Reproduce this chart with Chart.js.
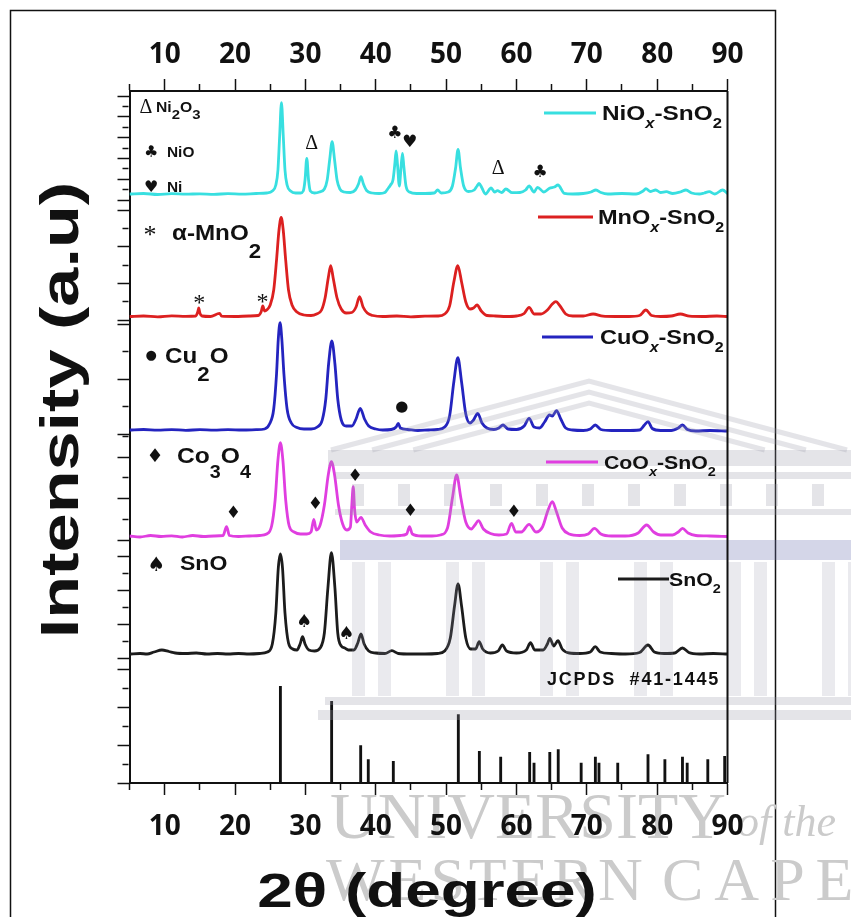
<!DOCTYPE html>
<html>
<head>
<meta charset="utf-8">
<script src="https://cdn.jsdelivr.net/npm/chart.js@4.4.1/dist/chart.umd.min.js"></script>
<style>
  html, body { margin: 0; padding: 0; background: #fff; overflow: hidden; }
  canvas { display: block; }
</style>
</head>
<body>
<canvas id="xrd" width="851" height="917"></canvas>
<script>
// ---- 2θ axis ----
const twoThetaMin = 5;
const twoThetaMax = 90;
const xTickValues = [5, 10, 15, 20, 25, 30, 35, 40, 45, 50, 55, 60, 65, 70, 75, 80, 85, 90];
const xTickLabels = [10, 20, 30, 40, 50, 60, 70, 80, 90];

// ---- diffraction patterns: [2θ (deg), intensity (a.u.)] ----
const nioSno2 = [[5,6],[7,6.5],[9,5.5],[11,6.3],[13,5.8],[15,6.2],[17,5.7],[19,6.3],[21,5.8],[23,6.5],[24.5,7],[25.3,9],[25.8,15],[26.1,30],[26.35,65],[26.6,97.3],[26.85,65],[27.1,30],[27.4,15],[27.9,9],[28.6,7],[29.3,7],[29.7,9],[29.95,20],[30.2,41.7],[30.45,20],[30.7,9],[31.3,7],[32,8],[32.7,11],[33.1,20],[33.45,40],[33.8,58.3],[34.15,40],[34.5,20],[34.9,11],[35.5,8],[36.4,7.5],[37.1,10],[37.55,16],[37.9,23.3],[38.25,16],[38.7,9.5],[39.5,7],[40.5,6.5],[41.3,7.5],[41.8,12],[42.1,15],[42.45,20],[42.7,35],[42.9,49],[43.1,35],[43.35,14],[43.6,33],[43.8,46.7],[44.0,33],[44.3,14],[44.8,8],[45.8,6.5],[47,6.5],[48.3,7],[48.8,10],[49.3,7],[50.3,8],[50.9,14],[51.35,32],[51.7,50.7],[52.05,32],[52.5,14],[53.2,8.5],[54.0,10],[54.4,14],[54.7,16.7],[55.1,12],[55.6,6],[56.4,12],[56.9,8],[57.3,9.3],[57.9,7.5],[58.5,11],[59.4,7.3],[60.5,7.5],[61.3,10],[61.8,14],[62.5,8],[63.0,12.7],[63.9,8],[64.7,11.7],[65.4,13],[65.9,15],[66.8,6.7],[68,6],[69.5,6.5],[70.6,8],[71.3,10],[72,7.5],[73,6],[75,6.5],[77,6],[78,9],[78.4,11.3],[79,8.5],[79.8,10],[80.5,7.5],[81.3,8.3],[82.2,6.5],[83.3,8],[84.1,10],[84.9,7],[86,6],[86.7,7],[87.4,8.3],[88.2,6],[89.3,10],[90,6.5]];

const mnoSno2 = [[5,3.5],[7,4],[9,3.2],[11,4.2],[13,3.6],[14.4,4],[14.7,8],[14.84,12],[15.0,7],[15.3,4],[16.5,3.5],[17.8,6.7],[18.1,3.8],[20,3.5],[22,4],[23.3,4.5],[23.7,8],[23.95,14],[24.2,9],[24.5,10],[25.0,15],[25.5,30],[25.9,60],[26.25,90],[26.56,102.7],[26.85,90],[27.2,60],[27.6,30],[28.1,15],[28.8,8],[29.8,5],[30.8,4.5],[31.6,6],[32.3,10],[32.8,22],[33.25,42],[33.6,54.3],[33.95,42],[34.5,22],[35.1,11],[35.8,7],[36.6,7.5],[37.2,13],[37.7,23.3],[38.2,13],[38.8,7],[39.6,4.5],[41,3.5],[43,4],[45,3.2],[47,3.8],[48.8,4],[49.8,6],[50.5,14],[51.1,38],[51.67,54.3],[52.2,38],[52.8,18],[53.4,11],[53.9,12],[54.4,15],[55,9],[55.8,4.5],[57,4],[58.5,3.5],[60,4],[61.1,6.5],[61.8,12.7],[62.5,6],[63.5,6],[64.4,10],[65.1,16],[65.6,18.3],[66.2,14],[67.0,6],[68,4],[69.5,4],[70.9,6],[72.3,3.8],[74,3.5],[76,3.5],[77.5,4.5],[78.4,10],[79.2,4.5],[80.5,3.5],[82,4],[83.3,6],[84.6,3.8],[86.5,3.5],[88.5,4],[90,3.5]];

const cuoSno2 = [[5,4],[7,4.5],[9,3.8],[11,4.4],[13,3.7],[15,4.3],[17,3.8],[19,4.4],[21,4],[23,4.3],[24.2,5],[24.9,10],[25.5,25],[25.9,60],[26.15,95],[26.4,111.3],[26.65,95],[26.95,60],[27.4,25],[28,11],[28.8,6.5],[29.8,5],[30.8,5],[31.7,7],[32.4,14],[32.9,35],[33.3,70],[33.76,93],[34.2,70],[34.6,35],[35.1,14],[35.8,8],[36.6,8],[37.2,15],[37.8,25.7],[38.4,15],[39,8],[40,5],[41,4],[42.2,4.5],[42.9,7],[43.2,10.7],[43.5,6],[44.5,4.5],[46,3.5],[47.5,4],[48.8,4.5],[49.8,7],[50.5,18],[51.1,52],[51.67,76.3],[52.2,52],[52.8,20],[53.4,11],[53.9,14],[54.5,20.7],[55.1,11],[55.8,6],[56.8,4.5],[57.5,6],[58.1,9],[58.8,5],[60,4.5],[61.1,8],[61.8,15.7],[62.5,7],[63.3,6],[64.0,12],[64.7,19],[65.1,18],[65.7,23.3],[66.3,15],[67,6],[68,4],[69.5,3.5],[70.5,5],[71.2,9],[72,4.5],[73.5,3.5],[75.5,3.5],[77.5,4],[78.2,9],[78.7,12.3],[79.3,5.5],[80.5,3.5],[82,3.5],[83,6],[83.6,9],[84.3,4.5],[85.5,3],[87.5,3.5],[90,3]];

const cooSno2 = [[5,4],[6.5,3],[8,4.5],[9.5,3.5],[11,4.2],[12.5,3],[14,4.5],[15.5,3.5],[17,4],[18.3,4.5],[18.8,13.3],[19.2,4.5],[20.5,3.5],[22,4],[23.5,4.5],[24.5,6],[25.2,14],[25.7,40],[26.1,80],[26.45,97.3],[26.8,80],[27.2,40],[27.7,14],[28.4,8],[29.3,6],[30.2,6],[30.8,8],[31.2,20.7],[31.55,10],[32.1,15],[32.7,35],[33.25,65],[33.7,78.3],[34.15,65],[34.7,35],[35.3,16],[35.9,10],[36.4,13],[36.6,35],[36.8,53.3],[37.0,30],[37.3,18],[37.9,22.7],[38.5,15],[39.3,8],[40.5,5],[42,4],[43.5,4.5],[44.4,6],[44.8,13.3],[45.2,6],[46.5,4],[48,4],[49.2,5],[50.2,12],[50.9,42],[51.5,65],[52.1,42],[52.8,18],[53.6,11],[54.1,15],[54.6,19.3],[55.3,11],[56.3,6.5],[57.5,5],[58.6,6],[59.3,16.7],[59.9,8],[60.7,8],[61.8,15.7],[62.8,8],[63.7,13],[64.5,30],[65.1,38.3],[65.7,28],[66.5,12],[67.5,6],[69,4.5],[70.2,6],[71.1,11.7],[72,6],[73.5,4],[75.5,4],[77.3,7],[78.5,15],[79.5,8],[80.5,5],[82.2,5],[83.0,8],[83.6,11.7],[84.4,7],[85.5,4.5],[87.5,4],[90,3.5]];

const sno2 = [[5,4],[6.5,4.5],[7.5,4],[8.5,6],[9.6,8],[10.6,6.5],[11.5,5],[13,4.5],[14.5,5],[16,4],[17.5,4.5],[19,4],[20.5,4.5],[22,4],[23.5,4.5],[24.6,6],[25.3,14],[25.8,45],[26.15,90],[26.45,104],[26.75,90],[27.1,45],[27.6,15],[28.2,9],[28.8,8],[29.25,14],[29.6,21.3],[29.95,14],[30.5,8],[31.3,7],[32.1,10],[32.7,25],[33.2,70],[33.7,105.3],[34.2,70],[34.6,25],[35.1,12],[35.6,10],[36.1,8],[36.9,8],[37.45,15],[37.9,24],[38.35,14],[39,7],[40,5],[41.3,4.5],[42.3,7.3],[43.2,4.5],[45,4],[47,4],[48.8,4.5],[49.8,7],[50.6,20],[51.2,52],[51.7,74],[52.2,52],[52.8,20],[53.5,9],[54.2,9],[54.7,16.3],[55.2,9],[56.3,5],[57.4,7],[58.0,13],[58.6,7],[60,5],[61.4,8],[62.0,15.3],[62.6,8],[63.8,8],[64.4,14],[64.75,19.7],[65.3,12],[65.9,17.3],[66.5,9],[67.5,5],[69,4.5],[70.5,6],[71.2,11.3],[71.9,6],[73.5,4.5],[75.5,4],[77.5,5.5],[78.7,13],[79.6,6],[81,4.5],[82.5,5],[83.6,10],[84.5,5.5],[86,4],[88,4.5],[90,4]];

// reference card JCPDS #41-1445 (cassiterite SnO2)
const jcpdsAngles = [26.45, 33.73, 37.86, 38.94, 42.5, 51.74, 54.73, 57.76, 61.88, 62.5, 64.74, 65.94, 69.2, 71.22, 71.73, 74.4, 78.7, 81.1, 83.6, 84.27, 87.2, 89.6];
const jcpdsIntensities = [96.6, 81.6, 37.3, 23.3, 21.6, 68.3, 31.6, 26, 30.6, 20, 30.6, 33.3, 20, 26, 20, 20, 28.3, 23.3, 26, 20, 23.3, 26.6];

// ---- secondary-phase reflections marked on the patterns: [2θ, intensity] ----
const ni2o3Marks = [[30.9, 58.3], [57.4, 32.7]];
const nioMarks = [[42.7, 68.3], [63.35, 30]];
const niMarks = [[44.8, 59.3]];
const mno2Marks = [[14.9, 20.7], [23.9, 21.7]];
const cu2oMarks = [[43.7, 26.7]];
const co3o4Marks = [[19.75, 28.3], [31.4, 37.3], [37.05, 66], [44.9, 30.7], [59.6, 29.3]];
const snoMarks = [[29.8, 38], [35.8, 26.3]];

// ---- stacked intensity panels (top to bottom): span and tick step in a.u. ----
const panelIds = ['yNi', 'yMn', 'yCu', 'yCo', 'ySn', 'yRef'];
const panelSpans = [109, 120, 114, 106, 118, 125];
const panelTickSteps = [10.4, 18.3, 27.5, 20.7, 17, 19];

const FONT = '"Liberation Sans", "DejaVu Sans", Arial, sans-serif';
const TICKFONT = '"Open Sans", "Liberation Sans", sans-serif';
const SYM = '"DejaVu Sans", "Liberation Sans", sans-serif';
const SERIF = '"Liberation Serif", "DejaVu Serif", serif';
const INK = '#111';

const COLORS = { ni: '#38dfe0', mn: '#dc2020', cu: '#2424bf', co: '#e03ee0', sn: '#1c1c1c' };

const toXY = arr => arr.map(([x, y]) => ({ x, y }));

// major ticks long, minor ticks drawn as a short dash at the axis end
const TL = 12;
function minorDash(isMajor) { return isMajor ? [] : [6, 30]; }
function minorOffsetOuterFirst(isMajor) { return isMajor ? 0 : 36 - (TL - 1 - 6); }

function panelAxis(i) {
  const span = panelSpans[i], step = panelTickSteps[i];
  return {
    type: 'linear', position: 'left', stack: 'xrd', stackWeight: span, weight: 10 - i,
    min: 0, max: span, offset: false,
    afterBuildTicks: s => {
      const t = [];
      for (let k = 0; k * step <= span - 0.5; k++) t.push({ value: k * step, major: k % 2 === 0 });
      s.ticks = t;
    },
    ticks: { display: false },
    grid: {
      drawOnChartArea: false, drawTicks: true, tickLength: TL, tickWidth: 1.5, tickColor: INK,
      tickBorderDash: ctx => minorDash(ctx.tick && ctx.tick.major),
      tickBorderDashOffset: ctx => minorOffsetOuterFirst(ctx.tick && ctx.tick.major)
    },
    border: { display: true, color: INK, width: 2 }
  };
}

function thetaAxis(position) {
  const top = position === 'top';
  return {
    type: 'linear', position, min: twoThetaMin, max: twoThetaMax, offset: false,
    afterBuildTicks: s => { s.ticks = xTickValues.map(v => ({ value: v, major: v % 10 === 0 })); },
    ticks: {
      autoSkip: false, maxRotation: 0, padding: top ? 7 : 15, color: INK,
      font: { family: TICKFONT, weight: 'bold', size: 28 },
      callback: v => xTickLabels.includes(v) ? String(v) : ''
    },
    grid: {
      offset: false, drawOnChartArea: false, drawTicks: true, tickLength: TL, tickWidth: 1.5, tickColor: INK,
      tickBorderDash: ctx => minorDash(ctx.tick && ctx.tick.major),
      tickBorderDashOffset: ctx => top ? minorOffsetOuterFirst(ctx.tick && ctx.tick.major) : 0
    },
    border: { display: true, color: INK, width: 2 }
  };
}

// ---- drawing helpers ----
function glyph(c, ch, cx, cy, font, color) {
  c.font = font; c.fillStyle = color || INK; c.textAlign = 'left'; c.textBaseline = 'alphabetic';
  const m = c.measureText(ch);
  const x0 = cx - (m.actualBoundingBoxRight - m.actualBoundingBoxLeft) / 2;
  const y0 = cy + (m.actualBoundingBoxAscent - m.actualBoundingBoxDescent) / 2;
  c.fillText(ch, x0, y0);
}

// parts: plain strings or [text, kind]; kind s = small subscript, S = large subscript,
// M = medium subscript, m = mid subscript, i = italic. Text is widened by `stretch`.
function rich(c, x, y, parts, size, stretch = 1, color) {
  c.save();
  c.translate(x, y); c.scale(stretch, 1);
  let cx = 0;
  c.fillStyle = color || INK; c.textAlign = 'left'; c.textBaseline = 'alphabetic';
  for (const p of parts) {
    const [t, k] = Array.isArray(p) ? p : [p, ''];
    let fs = size, dy = 0;
    if (k.includes('s')) { fs = size * 0.68; dy = size * 0.38; }
    if (k.includes('m')) { fs = size * 0.95; dy = size * 0.5; }
    if (k.includes('M')) { fs = size * 0.8; dy = size * 0.7; }
    if (k.includes('S')) { fs = size * 0.92; dy = size * 0.8; }
    c.font = `${k.includes('i') ? 'italic ' : ''}bold ${fs}px ${FONT}`;
    c.fillText(t, cx, dy);
    cx += c.measureText(t).width;
  }
  c.restore();
}

function legendEntry(c, x1, x2, y, color, tx, parts, size, stretch) {
  c.save();
  c.strokeStyle = color; c.lineWidth = 3; c.lineCap = 'butt';
  c.beginPath(); c.moveTo(x1, y); c.lineTo(x2, y); c.stroke();
  c.restore();
  rich(c, tx, y + size * 0.35, parts, size, stretch);
}

function markAll(chart, axisId, marks, ch, font) {
  const xs = chart.scales.x, ys = chart.scales[axisId];
  for (const [t, v] of marks) glyph(chart.ctx, ch, xs.getPixelForValue(t), ys.getPixelForValue(v), font);
}

function drawCrest(c) {
  // faint university building behind the lower panels
  c.save();
  const g = 'rgba(150,152,168,0.26)';
  c.strokeStyle = g; c.lineWidth = 5;
  const apexX = 589, apexY = 381, baseY = 450, half = 258, slope = (baseY - apexY) / half;
  for (const d of [0, 11, 22]) {
    const dx = d / slope;
    c.beginPath();
    c.moveTo(apexX - half + dx, baseY);
    c.lineTo(apexX, apexY + d);
    c.lineTo(apexX + half - dx, baseY);
    c.stroke();
  }
  c.fillStyle = g;
  c.fillRect(328, 450, 523, 16);
  c.fillRect(335, 472, 516, 7);
  for (let x = 352; x < 851; x += 46) c.fillRect(x, 484, 12, 22);
  c.fillRect(335, 509, 516, 6);
  c.fillStyle = 'rgba(112,120,178,0.30)';
  c.fillRect(340, 540, 511, 20);
  c.fillStyle = 'rgba(150,152,168,0.20)';
  for (const x of [352, 378, 446, 472, 540, 566, 634, 660, 728, 754, 822, 848]) c.fillRect(x, 562, 13, 134);
  c.fillStyle = g;
  c.fillRect(325, 697, 526, 8);
  c.fillRect(318, 710, 533, 10);
  c.restore();
}

const decorations = {
  id: 'decorations',
  beforeDraw(chart) {
    const c = chart.ctx;
    c.save();
    // page frame
    c.strokeStyle = INK; c.lineWidth = 1.5;
    c.beginPath(); c.moveTo(10.5, 917); c.lineTo(10.5, 10.5); c.lineTo(775.5, 10.5); c.lineTo(775.5, 917); c.stroke();
    // lettering of the university watermark
    c.fillStyle = '#cbcbcb'; c.textAlign = 'left'; c.textBaseline = 'alphabetic';
    c.font = `66px ${SERIF}`;
    c.fillText('UNIVERSITY', 330, 838);
    c.font = `italic 44px ${SERIF}`;
    c.fillText('of the', 737, 836);
    c.font = `62px ${SERIF}`;
    c.letterSpacing = '4px';
    c.fillText('WESTERN', 326, 900);
    c.letterSpacing = '11px';
    c.fillText('CAPE', 662, 900);
    c.letterSpacing = '0px';
    c.restore();
  },
  afterDatasetsDraw(chart) {
    const c = chart.ctx, a = chart.chartArea;
    drawCrest(c);
    c.save();
    // right frame of the plot box
    c.strokeStyle = INK; c.lineWidth = 2;
    c.beginPath(); c.moveTo(a.right, a.top); c.lineTo(a.right, a.bottom); c.stroke();

    // phase keys
    glyph(c, 'Δ', 146, 106, `20px ${SERIF}`);
    rich(c, 156, 112, ['Ni', ['2', 'm'], 'O', ['3', 'm']], 14, 1.12);
    glyph(c, '♣', 151, 151, `16px ${SYM}`);
    rich(c, 167, 157, ['NiO'], 14, 1.1);
    glyph(c, '♥', 151, 186, `16px ${SYM}`);
    rich(c, 167, 192, ['Ni'], 14, 1.1);

    glyph(c, '*', 150, 231, `26px ${SERIF}`);
    rich(c, 172, 240, ['α-MnO', ['2', 'S']], 22, 1.1);

    glyph(c, '●', 151, 355, `13px ${SYM}`);
    rich(c, 165, 363, ['Cu', ['2', 'S'], 'O'], 22, 1.1);

    glyph(c, '♦', 155, 455, `19px ${SYM}`);
    rich(c, 177, 463, ['Co', ['3', 'M'], 'O', ['4', 'M']], 22, 1.12);

    glyph(c, '♠', 156, 563, `20px ${SYM}`);
    rich(c, 180, 570, ['SnO'], 20, 1.15);

    // reflection markers on the patterns
    markAll(chart, 'yNi', ni2o3Marks, 'Δ', `20px ${SERIF}`);
    markAll(chart, 'yNi', nioMarks, '♣', `17px ${SYM}`);
    markAll(chart, 'yNi', niMarks, '♥', `17px ${SYM}`);
    markAll(chart, 'yMn', mno2Marks, '*', `24px ${SERIF}`);
    markAll(chart, 'yCu', cu2oMarks, '●', `15px ${SYM}`);
    markAll(chart, 'yCo', co3o4Marks, '♦', `17px ${SYM}`);
    markAll(chart, 'ySn', snoMarks, '♠', `18px ${SYM}`);

    // sample legends
    legendEntry(c, 544, 596, 113, COLORS.ni, 602, ['NiO', ['x', 'si'], '-SnO', ['2', 's']], 21, 1.16);
    legendEntry(c, 538, 593, 217, COLORS.mn, 598, ['MnO', ['x', 'si'], '-SnO', ['2', 's']], 21, 1.12);
    legendEntry(c, 542, 593, 337, COLORS.cu, 600, ['CuO', ['x', 'si'], '-SnO', ['2', 's']], 21, 1.12);
    legendEntry(c, 546, 598, 462, COLORS.co, 604, ['CoO', ['x', 'si'], '-SnO', ['2', 's']], 19, 1.12);
    legendEntry(c, 618, 669, 579, COLORS.sn, 669, ['SnO', ['2', 's']], 19, 1.12);

    c.font = `bold 18px ${FONT}`; c.fillStyle = INK; c.textAlign = 'left'; c.textBaseline = 'alphabetic';
    c.letterSpacing = '1.8px';
    c.fillText('JCPDS  #41-1445', 547, 685);
    c.letterSpacing = '0px';
    c.restore();
  },
  afterDraw(chart) {
    const c = chart.ctx;
    c.save();
    c.fillStyle = INK; c.textAlign = 'center'; c.textBaseline = 'alphabetic';
    // 2θ axis title, wide bold lettering
    c.save();
    c.translate(427, 907); c.scale(1.33, 1);
    c.font = `bold 48px ${FONT}`;
    c.fillText('2θ (degree)', 0, 0);
    c.restore();
    // intensity axis title
    c.translate(78, 410); c.rotate(-Math.PI / 2); c.scale(1.3, 1);
    c.font = `bold 54px ${FONT}`;
    c.fillText('Intensity (a.u)', 0, 0);
    c.restore();
  }
};

const lineSet = (data, color, axis) => ({
  type: 'line', data: toXY(data), xAxisID: 'x', yAxisID: axis,
  borderColor: color, borderWidth: 2.8, pointRadius: 0, fill: false,
  cubicInterpolationMode: 'monotone'
});

const scales = { x: thetaAxis('bottom'), xTop: thetaAxis('top') };
panelIds.forEach((id, i) => { scales[id] = panelAxis(i); });

new Chart(document.getElementById('xrd'), {
  type: 'line',
  data: {
    datasets: [
      lineSet(nioSno2, COLORS.ni, 'yNi'),
      lineSet(mnoSno2, COLORS.mn, 'yMn'),
      lineSet(cuoSno2, COLORS.cu, 'yCu'),
      lineSet(cooSno2, COLORS.co, 'yCo'),
      lineSet(sno2, COLORS.sn, 'ySn'),
      {
        type: 'bar', xAxisID: 'x', yAxisID: 'yRef',
        data: jcpdsAngles.map((t, i) => ({ x: t, y: jcpdsIntensities[i] })),
        backgroundColor: INK, borderWidth: 0, barThickness: 2.2
      }
    ]
  },
  options: {
    responsive: false, animation: false, devicePixelRatio: 1,
    layout: { padding: { left: 117.5, right: 123.5, top: 31.4, bottom: 58.4 } },
    plugins: { legend: { display: false }, tooltip: { enabled: false } },
    scales
  },
  plugins: [decorations]
});
</script>
</body>
</html>
